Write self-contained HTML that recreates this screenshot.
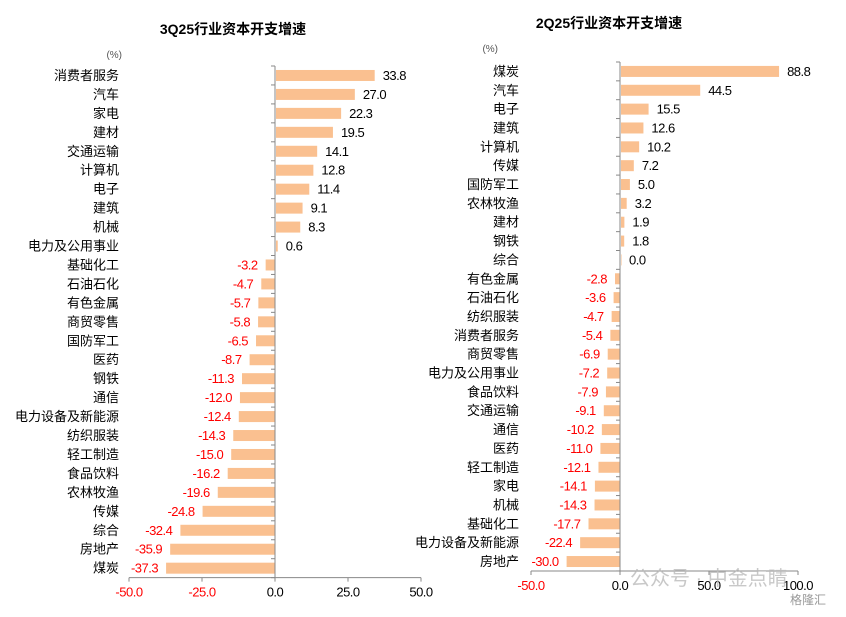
<!DOCTYPE html>
<html><head><meta charset="utf-8">
<style>
body{margin:0;background:#fff;}
svg text{font-family:"Liberation Sans","Noto Sans CJK SC",sans-serif;}
</style></head>
<body>
<svg id="c" width="846" height="612" viewBox="0 0 846 612" xmlns="http://www.w3.org/2000/svg">
<text x="233" y="34" text-anchor="middle" font-size="14" font-weight="bold" fill="#000">3Q25行业资本开支增速</text>
<text x="609" y="28" text-anchor="middle" font-size="14" font-weight="bold" fill="#000">2Q25行业资本开支增速</text>
<text x="122" y="58" text-anchor="end" font-size="10" fill="#555">(%)</text>
<text x="498" y="52" text-anchor="end" font-size="10" fill="#555">(%)</text>
<g id="wm">
<text x="630" y="585" font-size="20" fill="#bbb" opacity="0.8">公众号 · 中金点睛</text>
<text x="790" y="604" font-size="12" fill="#999">格隆汇</text>
</g>
</svg>
<script>
const leftCats=["消费者服务","汽车","家电","建材","交通运输","计算机","电子","建筑","机械","电力及公用事业","基础化工","石油石化","有色金属","商贸零售","国防军工","医药","钢铁","通信","电力设备及新能源","纺织服装","轻工制造","食品饮料","农林牧渔","传媒","综合","房地产","煤炭"];
const leftVals=[33.8,27.0,22.3,19.5,14.1,12.8,11.4,9.1,8.3,0.6,-3.2,-4.7,-5.7,-5.8,-6.5,-8.7,-11.3,-12.0,-12.4,-14.3,-15.0,-16.2,-19.6,-24.8,-32.4,-35.9,-37.3];
const leftTicks=[-50,-25,0,25,50];
const rightCats=["煤炭","汽车","电子","建筑","计算机","传媒","国防军工","农林牧渔","建材","钢铁","综合","有色金属","石油石化","纺织服装","消费者服务","商贸零售","电力及公用事业","食品饮料","交通运输","通信","医药","轻工制造","家电","机械","基础化工","电力设备及新能源","房地产"];
const rightVals=[88.8,44.5,15.5,12.6,10.2,7.2,5.0,3.2,1.9,1.8,0.0,-2.8,-3.6,-4.7,-5.4,-6.9,-7.2,-7.9,-9.1,-10.2,-11.0,-12.1,-14.1,-14.3,-17.7,-22.4,-30.0];
const rightTicks=[-50,0,50,100];
const svg=document.getElementById('c');
const NS='http://www.w3.org/2000/svg';
function mk(tag,attrs,parent){const e=document.createElementNS(NS,tag);for(const k in attrs)e.setAttribute(k,attrs[k]);(parent||svg).appendChild(e);return e;}
function chart(prefix,cats,vals,ticks,o){
  const x=v=>o.x0+(v-ticks[0])*(o.x1-o.x0)/(ticks[ticks.length-1]-ticks[0]);
  const y=i=>o.top+(i+0.5)*o.step;
  const g=mk('g',{});
  
  
  const bottom=o.top+cats.length*o.step;
  cats.forEach((c,i)=>{
    const v=vals[i];const cy=y(i);
    const r=mk('rect',{x:Math.min(x(0),x(v))+(v>=0?1:0),y:cy-5.5,width:Math.max(Math.abs(x(v)-x(0)),0.5),height:11,fill:'#FAC090'},g);
    
    
    const t=mk('text',{x:o.labelX,y:cy+4.5,'text-anchor':'end','font-size':13,fill:'#000'},g);
    t.textContent=c;
    
    
    const vt=mk('text',{x:v>=0?x(v)+9:x(v)-8,y:cy+4.5,'text-anchor':v>=0?'start':'end','font-size':13,'letter-spacing':'-0.5',fill:v>=0?'#000':'#f00'},g);
    vt.textContent=v.toFixed(1);
    
    
  });
  const ax=mk('line',{x1:x(0),x2:x(0),y1:o.top,y2:bottom,stroke:'#888','stroke-width':1},g);
  
  
  for(let i=0;i<=cats.length;i++){mk('line',{x1:x(0)-4,x2:x(0),y1:o.top+i*o.step,y2:o.top+i*o.step,stroke:'#888'},g);}
  const xa=mk('line',{x1:x(ticks[0]),x2:x(ticks[ticks.length-1]),y1:bottom,y2:bottom,stroke:'#888'},g);
  
  
  ticks.forEach(tv=>{
    mk('line',{x1:x(tv),x2:x(tv),y1:bottom,y2:bottom+4,stroke:'#888'},g);
    const tt=mk('text',{x:x(tv),y:bottom+19,'text-anchor':'middle','font-size':13,'letter-spacing':'-0.5',fill:tv<0?'#f00':'#000'},g);
    tt.textContent=tv.toFixed(1);
    
    
  });
}
chart('left',leftCats,leftVals,leftTicks,{x0:129,x1:421,top:66,step:18.95,labelX:119});
chart('right',rightCats,rightVals,rightTicks,{x0:531,x1:798,top:62,step:18.85,labelX:519});
svg.appendChild(document.getElementById('wm'));
</script>
</body></html>
